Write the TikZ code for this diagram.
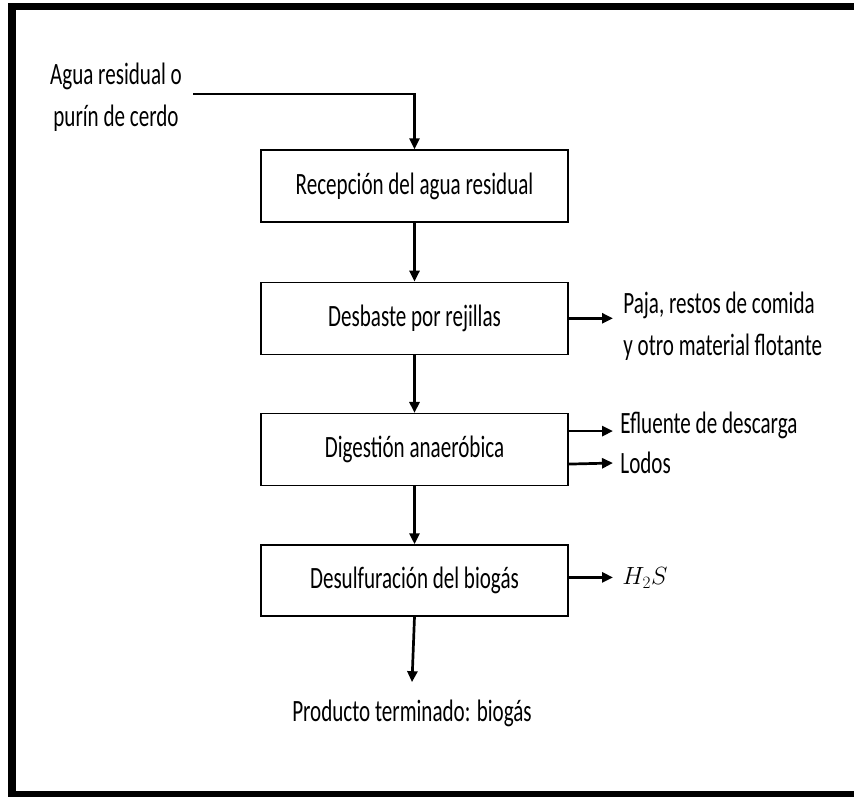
\documentclass[tikz,border=0pt]{standalone}
\usepackage{fontspec}
\setmainfont{Carlito}[FakeStretch=0.68]
\usetikzlibrary{positioning, arrows.meta}

\begin{document}
\begin{tikzpicture}[x=1pt, y=1pt, thick]
    \tikzset{
      stage/.style={draw, line width=1.3pt, fill=white, minimum width=307pt, minimum height=72pt, inner sep=0pt, font=\fontsize{31}{42}\selectfont},
      flow/.style={line width=2.7pt, -{Triangle[length=11pt, width=10pt]}},
      tag/.style={inner sep=0pt, align=center, font=\fontsize{31}{42}\selectfont},
    }
    \useasboundingbox (0,0) rectangle (854,796);
    \begin{scope}
      \clip (0,0) rectangle (854,796);
      \fill[white] (0,0) rectangle (854,796);
      \draw[line width=7.5pt] (12,1) rectangle (880,789.5);
    \end{scope}

    \node [stage] (recep) at (414.5,610) {Recepción del agua residual};
    \node [stage, below=59pt of recep] (desb) {Desbaste por rejillas};
    \node [stage, below=58pt of desb] (dig) {Digestión anaeróbica};
    \node [stage, below=58pt of dig, minimum height=71pt] (desulf) {Desulfuración del biogás};

    \node [tag] (agua) at (116,699) {Agua residual o\\purín de cerdo};
    \node [tag, anchor=west, align=left] (paja) at (623,470) {Paja, restos de comida\\y otro material flotante};
    \node [tag, anchor=west] (eflu) at (620,371) {Efluente de descarga};
    \node [tag, anchor=west] (lodos) at (620,333) {Lodos};
    \node [tag, anchor=west, font=\fontsize{23}{26}\selectfont] (hs) at (622,218) {$H_2S$};
    \node [tag] (prod) at (412,83) {Producto terminado: biogás};

    \coordinate (in) at (193,702);
    \draw [flow] (in) -| (recep.north);
    \foreach \a/\b in {recep/desb, desb/dig, dig/desulf}
      \draw [flow] (\a.south) -- (\b.north);
    \draw [flow] (desulf.south) -- ([yshift=17pt]prod.north);

    \draw [flow] (desb.east) -- ([xshift=-10pt]desb.east -| paja.west);
    \draw [flow] ([yshift=18.5pt]dig.east) -- ([xshift=-7pt,yshift=18.5pt]dig.east -| eflu.west);
    \draw [flow] ([yshift=-14.5pt]dig.east) -- ([xshift=-7pt]lodos.west);
    \draw [flow] ([yshift=3pt]desulf.east) -- ([xshift=-9pt,yshift=3pt]desulf.east -| hs.west);
\end{tikzpicture}
\end{document}
